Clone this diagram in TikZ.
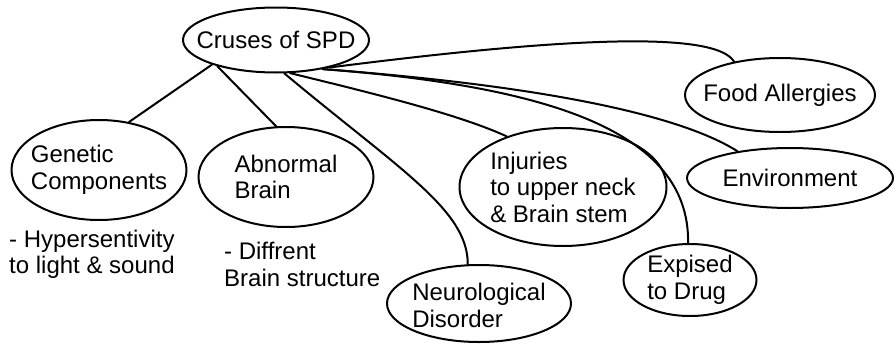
\documentclass[tikz,border=0pt]{standalone}
\usepackage{fontspec}
\setmainfont{Liberation Sans}
\usetikzlibrary{shapes.geometric}
\begin{document}
\begin{tikzpicture}[x=1pt,y=-1pt, line cap=round, line join=round,
  ell/.style={draw, ellipse, line width=2pt, inner sep=0pt},
  lab/.style={align=left, inner sep=0pt, font=\fontsize{24}{26.5}\selectfont},
  con/.style={line width=2pt}]
\useasboundingbox (0,0) rectangle (894,343);
% ellipses
\node[ell, minimum width=186, minimum height=65] (spd) at (276,40) {};
\node[lab] (spdt) at (spd.center) {Cruses of SPD};
\node[ell, minimum width=175, minimum height=100] (gen) at (99,170) {};
\node[lab] (gent) at (gen.center) {Genetic\\Components};
\node[ell, minimum width=175, minimum height=100] (abn) at (286,177) {};
\node[lab] (abnt) at (abn.center) {Abnormal\\Brain};
\node[ell, minimum width=184, minimum height=77] (neu) at (479,303.5) {};
\node[lab] (neut) at ([yshift=-2]neu.center) {Neurological\\Disorder};
\node[ell, minimum width=207, minimum height=118] (inj) at (563,187) {};
\node[lab] (injt) at (inj.center) {Injuries\\to upper neck\\\& Brain stem};
\node[ell, minimum width=133, minimum height=72] (exp) at (690,280) {};
\node[lab] (expt) at (exp.center) {Expised\\to Drug};
\node[ell, minimum width=206, minimum height=60] (env) at (790,178) {};
\node[lab] (envt) at (env.center) {Environment};
\node[ell, minimum width=190, minimum height=74] (food) at (780,95) {};
\node[lab] (foodt) at (food.center) {Food Allergies};
% notes
\node[lab, anchor=west] (hyp) at (9,254.5) {- Hypersentivity\\to light \& sound};
\node[lab, anchor=west] (dif) at (224,264.5) {- Diffrent\\Brain structure};
% connectors
\draw[con] (spd.201) -- (gen.58);
\draw[con] (spd.204) -- (abn.101);
\draw[con] (spd.284) .. controls (400,170) and (468,210) .. (neu.106);
\draw[con] (spd.293) .. controls (380,95) and (460,115) .. (inj.138);
\draw[con] (spd.328) .. controls (545,86) and (690,130) .. (exp.93);
\draw[con] (spd.328) .. controls (545,86) and (680,115) .. (env.153);
\draw[con] (spd.333) .. controls (560,38) and (715,30) .. (food.144);
\end{tikzpicture}
\end{document}
